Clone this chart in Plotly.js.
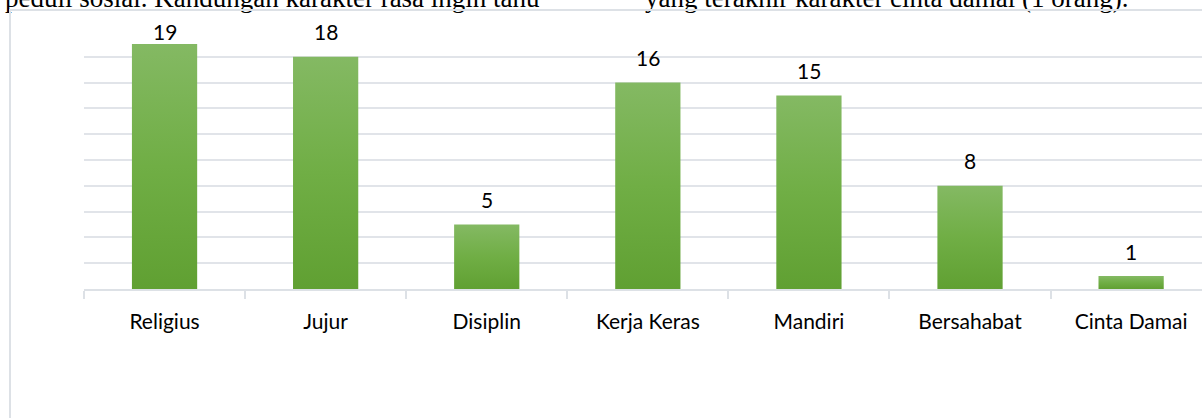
<!DOCTYPE html>
<html>
<head>
<meta charset="utf-8">
<script src="https://cdn.plot.ly/plotly-3.0.1.min.js"></script>
<style>
html,body{margin:0;padding:0;overflow:hidden;background:#fff;width:1202px;height:418px;}
#wrap{position:relative;width:1202px;height:418px;}
#chart{position:absolute;left:0;top:0;width:1202px;height:418px;}
#frame{position:absolute;left:9px;top:9px;width:1200px;height:420px;border-left:2px solid #dde1e6;border-top:2px solid #dde1e6;pointer-events:none;}
</style>
</head>
<body>
<div id="wrap">
<div id="chart"></div>
<div id="frame"></div>
</div>
<script>
const categories = ["Religius", "Jujur", "Disiplin", "Kerja Keras", "Mandiri", "Bersahabat", "Cinta Damai"];
const values = [19, 18, 5, 16, 15, 8, 1];
const topTextLeft = "peduli sosial. Kandungan karakter rasa ingin tahu";
const topTextRight = "yang terakhir karakter cinta damai (1 orang).";

const yMax = 20;
const plotHeightPx = 258;
const labelGapPx = 25;
const pxPerUnit = plotHeightPx / yMax;

const trace = {
  type: "bar",
  x: categories,
  y: values,
  width: 0.405,
  marker: {color: "#70ad47", line: {width: 0}},
  hoverinfo: "none"
};

const labelFont = {family: "Lato, Carlito, sans-serif", size: 21, color: "#000"};

// Data labels: placed above each bar; clamped to the top of the plot area like the original.
const valueLabels = categories.map(function(c, i){
  const v = values[i];
  const clamp = v + labelGapPx / pxPerUnit > yMax;
  return {
    xref: "x", yref: "y", x: c, y: clamp ? yMax : v,
    yshift: clamp ? 0 : labelGapPx,
    xanchor: "center", yanchor: "middle",
    text: String(v), showarrow: false, font: labelFont
  };
});

const layout = {
  width: 1202,
  height: 418,
  margin: {l: 84, r: 0, t: 31, b: 129, pad: 0},
  paper_bgcolor: "rgba(0,0,0,0)",
  plot_bgcolor: "rgba(0,0,0,0)",
  showlegend: false,
  bargap: 0.595,
  xaxis: {
    type: "category",
    range: [-0.5, 6.44],
    tickson: "boundaries",
    ticks: "outside",
    ticklen: 8,
    tickwidth: 2,
    tickcolor: "#dde1e6",
    showline: true,
    linecolor: "#dde1e6",
    linewidth: 2,
    showgrid: false,
    ticklabelstandoff: 13,
    tickfont: labelFont,
    fixedrange: true
  },
  yaxis: {
    range: [0, yMax],
    dtick: 2,
    showticklabels: false,
    showgrid: true,
    gridcolor: "#e1e4e9",
    gridwidth: 2,
    zeroline: false,
    showline: false,
    ticks: "",
    fixedrange: true
  },
  annotations: valueLabels.concat([
    {xref: "paper", yref: "paper", x: (3 - 84) / 1118, y: 1 + (31 - 15) / 258, xanchor: "left", yanchor: "bottom",
     text: topTextLeft, showarrow: false, font: {family: "Liberation Serif, Times New Roman, serif", size: 27, color: "#000"}},
    {xref: "paper", yref: "paper", x: (643 - 84) / 1118, y: 1 + (31 - 15) / 258, xanchor: "left", yanchor: "bottom",
     text: topTextRight, showarrow: false, font: {family: "Liberation Serif, Times New Roman, serif", size: 27, color: "#000"}}
  ])
};

Plotly.newPlot("chart", [trace], layout, {displayModeBar: false, staticPlot: true}).then(function(gd){
  const svg = gd.querySelector(".main-svg");
  let defs = svg.querySelector("defs");
  const ns = "http://www.w3.org/2000/svg";
  const grad = document.createElementNS(ns, "linearGradient");
  grad.setAttribute("id", "barGrad");
  grad.setAttribute("x1", "0"); grad.setAttribute("y1", "0");
  grad.setAttribute("x2", "0"); grad.setAttribute("y2", "1");
  const s1 = document.createElementNS(ns, "stop");
  s1.setAttribute("offset", "0"); s1.setAttribute("stop-color", "#84b963");
  const s2 = document.createElementNS(ns, "stop");
  s2.setAttribute("offset", "0.5"); s2.setAttribute("stop-color", "#70ae45");
  const s3 = document.createElementNS(ns, "stop");
  s3.setAttribute("offset", "1"); s3.setAttribute("stop-color", "#60a032");
  grad.appendChild(s1); grad.appendChild(s2); grad.appendChild(s3);
  defs.appendChild(grad);
  gd.querySelectorAll(".bars .point path").forEach(function(p){
    p.style.fill = "url(#barGrad)";
  });
});
</script>
</body>
</html>
